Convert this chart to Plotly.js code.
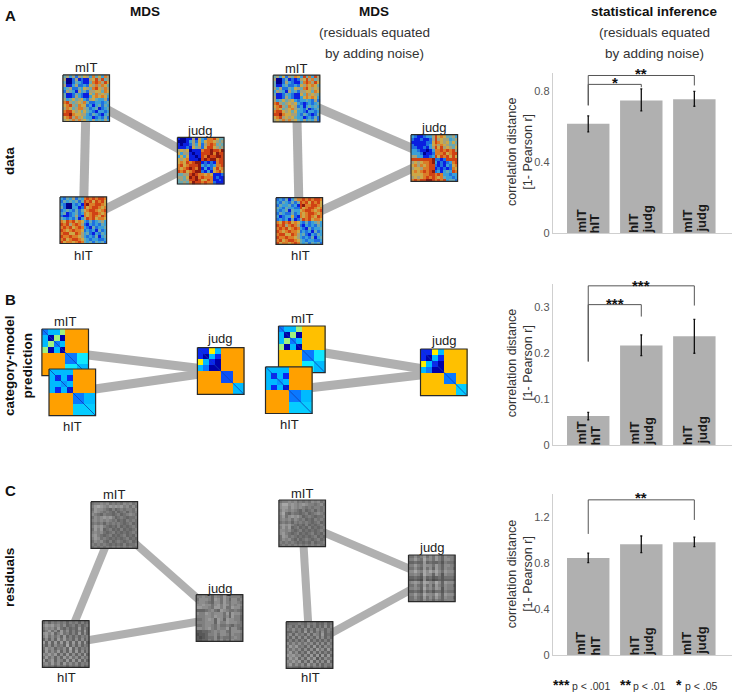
<!DOCTYPE html>
<html><head><meta charset="utf-8">
<script src="https://cdn.plot.ly/plotly-3.0.1.min.js"></script>
<style>html,body{margin:0;padding:0;background:#fff}#c{width:734px;height:693px}</style>
</head><body><div id="c"></div>
<script>
// ---------- bar chart data ----------
const pairsA = [['mIT','hIT'],['hIT','judg'],['mIT','judg']];
const pairsB = [['mIT','hIT'],['mIT','judg'],['hIT','judg']];
const pairsC = [['mIT','hIT'],['hIT','judg'],['mIT','judg']];
const distA = [0.614,0.746,0.752], errUpA = [0.045,0.065,0.045], errDnA = [0.045,0.059,0.039];
const distB = [0.063,0.217,0.237], errUpB = [0.008,0.023,0.037], errDnB = [0.008,0.022,0.037];
const distC = [0.849,0.968,0.985], errUpC = [0.041,0.072,0.045], errDnC = [0.041,0.073,0.037];
const ticksA = [0,0.4,0.8], ticksB = [0,0.1,0.2,0.3], ticksC = [0,0.4,0.8,1.2];
const labelsA = ['0','0.4','0.8'], labelsB = ['0','0.1','0.2','0.3'], labelsC = ['0','0.4','0.8','1.2'];

// ---------- MDS arrangements: node centres, one [mIT, hIT, judg] triple per panel ----------
const mdsA1X=[86.2,83.3,200.7], mdsA1Y=[98.2,220.2,160.7];
const mdsA2X=[296.5,299.3,434.3], mdsA2Y=[98.5,221,158];
const mdsB1X=[65.2,72.3,220.7], mdsB1Y=[352.3,392.3,371];
const mdsB2X=[301.8,288.8,443.8], mdsB2Y=[349.3,390.2,372.3];
const mdsC1X=[114.3,65.7,219.5], mdsC1Y=[525,644,618];
const mdsC2X=[302.2,309.5,431.8], mdsC2Y=[523.3,645,578.3];

// ---------- dissimilarity matrices, read as coarse colour levels ----------
const mitA1=["4535254653746375","5002512115685845","4002432114787586","5113522326575764","3452243654786575","2543153425566476","4112432116475654","4112532113676763","5346456325643352","7854565742233234","6785476623134243","5764577542341234","7886564643213323","8897665532432134","6785756433123242","5657575643534353"];
const hitA1=["3243524378787887","2434342487868786","3200323189778876","4200331286788767","2343242467887678","3412342376788767","2112352176787687","4323241358786776","7687867632423453","8785787521323243","7878678732142334","8767877623231423","7886687534213243","8778776532324134","7867887643233223","8677678743424342"];
const judgA1=["1001151632778644","0001352636776545","1011253625787454","1112164526886545","5656011178898879","6355101188897988","3636110187988998","6567111089899788","6768789912121788","7867888932323778","7678987913126867","8786789921316786","4455898776761112","5546989787771211","4545889866871121","4454798878772111"];
const mitA2=["4536254763847385","5002412125685745","4002532114787586","4113422326576764","5352243654786565","3543153425566476","4112432116475654","5112532113676763","5346456323343252","7854565632123234","6785476523134343","5764567543241234","7886564633213323","8897665532432124","6785656433123242","5657575643534352"];
const hitA2=["2324135778787887","3243242487868786","2433423189778876","4324332286788767","3234143367887678","2432242376788767","3123362176787687","2323141258786776","7687867632423453","8785787521323243","7878678732142334","8767877623231423","7886687534213243","8778776532324134","7867887643233223","8677678743424342"];
const judgA2=["3211233586764453","2112112585655345","1111122687656464","2111123675765445","2211213586856546","3321101377878785","3332011277786788","5533112386878686","8888888922128888","5656778931212378","6757678821213267","5665778812121276","6767878923134387","6666778878733233","5656787876743323","7878899878783442"];

const mitC1=["4556564545465645","5787657676756464","4766543534545546","5765454353453545","6543544345345654","4656767534543445","5656565453435454","4545354545434534","5767543435343454","4757345343534345","5656434534343454","6754345343453435","5764543434345343","4656435345434534","5454543434353445","4545454545454544"];
const hitC1=["3535454535453534","5767564634535345","4656474353437353","3574637463535373","6757357453537363","5746463735353545","3636374745363635","7373737373737373","5363645383636354","4756354638363545","3746473637373635","6575736373636373","4746363747463645","7357365373737363","5647463746463545","4545354535453534"];
const judgC1=["5565536547545554","4666537647536645","5665436647546654","6676646757646565","7766547757447664","3334564376544543","6557656664737664","5556657664637553","4456763763766553","5556663755766654","4456654644543544","6656754655736643","2233456566436665","1223556466536554","2123446354435654","2233546464536554"];
const mitC2=["4556564545465645","6886765676554564","6775765654545545","5765654353453545","6843544345345654","5746767534543445","5656465453435454","4545354545434534","6767543435343454","5757345343534345","6656434534343454","6754345343453435","4764543434345343","4656435345434534","5454543434353445","4545454545454544"];
const hitC2=["3444543545343534","4535353635353635","5464536353645354","3353537363536353","4636453636537343","5363636353636353","3535353735353535","6464646463636364","4757453637363645","6464636363746373","5746353736363535","7675636373727373","4757363747263645","6575736373636373","5746463746363545","4544354535453534"];
const judgC2=["4464574647536554","5575485647536654","3343373433425443","5575476647536654","4464374637536553","6686586868647665","5565386637526554","3343263423424443","2232162312323332","5676487658637665","4464374637536553","5565385647626554","3343263424425443","5575486658637665","4464374647536553","4454364535435554"];

// category-model predictions, levels on the same 0-9 code
const mitB1=[[2,3,3,5,7,7,7,7],[3,0,5,0,7,7,7,7],[3,5,2,3,7,7,7,7],[5,0,3,0,7,7,7,7],[7,7,7,7,2,2,4,4],[7,7,7,7,2,2,4,4],[7,7,7,7,4,4,3,3],[7,7,7,7,4,4,3,3]];
const mitB2=[[2,3,3,5,6.6,6.6,6.6,6.6],[3,0,5,0,6.6,6.6,6.6,6.6],[3,5,2,3,6.6,6.6,6.6,6.6],[5,0,3,0,6.6,6.6,6.6,6.6],[6.6,6.6,6.6,6.6,2,2,4,4],[6.6,6.6,6.6,6.6,2,2,4,4],[6.6,6.6,6.6,6.6,4,4,3,3],[6.6,6.6,6.6,6.6,4,4,3,3]];
const hitB=[[3,3,3,3,7,7,7,7],[3,1,3,1,7,7,7,7],[3,3,2.5,3,7,7,7,7],[3,1,3,0.6,7,7,7,7],[7,7,7,7,2,2,3,3],[7,7,7,7,2,2,3,3],[7,7,7,7,3.4,3.4,3.4,3.4],[7,7,7,7,3.4,3.4,3.4,3.4]];
const judgB1=[[1,1,6,3,7,7,7,7],[1,0,3,1,7,7,7,7],[6,3,1,0,7,7,7,7],[3,2,0,0,7,7,7,7],[7,7,7,7,1.5,1.5,7,7],[7,7,7,7,1.5,1.5,7,7],[7,7,7,7,7,7,3,3],[7,7,7,7,7,7,3,3]];
const judgB2=[[1,1,6,3,6.6,6.6,6.6,6.6],[1,0,3,1,6.6,6.6,6.6,6.6],[6,3,1,0,6.6,6.6,6.6,6.6],[3,2,0,0,6.6,6.6,6.6,6.6],[6.6,6.6,6.6,6.6,2,2,6.6,6.6],[6.6,6.6,6.6,6.6,2,2,6.6,6.6],[6.6,6.6,6.6,6.6,6.6,6.6,3.4,3.4],[6.6,6.6,6.6,6.6,6.6,6.6,3.4,3.4]];

const rowTitles = ['data','category-model<br>prediction','residuals'];
const panelLetters = ['A','B','C'];

// ---------- styles ----------
const FONT='"Liberation Sans", Arial, sans-serif';
const noisyJet=[[0,'#00008f'],[1/9,'#0a1ee0'],[2/9,'#1f6fe0'],[3/9,'#3a9fd8'],[4/9,'#6aa8b0'],[5/9,'#a5a07a'],[6/9,'#cca848'],[7/9,'#dc7c28'],[8/9,'#d04214'],[1,'#8a1a10']];
const cleanJet=[[0,'#0000a8'],[1/9,'#0a28f0'],[2/9,'#0a78ff'],[3/9,'#00baff'],[4/9,'#10e8ff'],[5/9,'#a0f080'],[6/9,'#fff000'],[7/9,'#ffa000'],[8/9,'#e83010'],[1,'#900000']];
const greys=[[0,'#3e3e3e'],[1,'#b4b4b4']];
const BOX=46.6, LINE='#b0b0b0';

const parse=m=>typeof m[0]==='string'?m.map(r=>r.split('').map(Number)):m;
const data=[], annotations=[];
function text(x,y,t,o={}){annotations.push(Object.assign({x,y,xref:'x',yref:'y',text:t,showarrow:false,font:{family:FONT,size:13,color:'#222'},xanchor:'center',yanchor:'middle'},o));}

function node(cx,cy,m,scale,ax,ay,diag){
  const z=parse(m),n=z.length,d=BOX/n;
  data.push({type:'heatmap',z,x0:cx-BOX/2+d/2,dx:d,y0:cy-BOX/2+d/2,dy:d,xaxis:ax,yaxis:ay,colorscale:scale,zmin:0,zmax:9,showscale:false,hoverinfo:'skip'});
  if(diag)data.push({type:'scatter',mode:'lines',x:[cx-BOX/2,cx+BOX/2],y:[cy-BOX/2,cy+BOX/2],xaxis:ax,yaxis:ay,line:{color:'#1040b0',width:0.8},hoverinfo:'skip',showlegend:false});
  data.push({type:'scatter',mode:'lines',x:[cx-BOX/2,cx+BOX/2,cx+BOX/2,cx-BOX/2,cx-BOX/2],y:[cy-BOX/2,cy-BOX/2,cy+BOX/2,cy+BOX/2,cy-BOX/2],xaxis:ax,yaxis:ay,line:{color:'#2a2a2a',width:1.2},hoverinfo:'skip',showlegend:false});
}
function mds(X,Y,ms,scale,diag,lab,w){
  const ord=[[0,1],[0,2],[1,2]];
  ord.forEach(([a,b])=>{ if(diag&&a===0&&b===1)return;
    data.push({type:'scatter',mode:'lines',x:[X[a],X[b]],y:[Y[a],Y[b]],xaxis:'x',yaxis:'y',line:{color:LINE,width:w},hoverinfo:'skip',showlegend:false});});
  node(X[0],Y[0],ms[0],scale,'x2','y2',diag);
  node(X[2],Y[2],ms[2],scale,'x2','y2',diag);
  node(X[1],Y[1],ms[1],scale,'x3','y3',diag);
  ['mIT','hIT','judg'].forEach((t,i)=>text(lab[i][0],lab[i][1],t));
}
mds(mdsA1X,mdsA1Y,[mitA1,hitA1,judgA1],noisyJet,false,[[86,67.5],[83,255],[200,130]],9);
mds(mdsA2X,mdsA2Y,[mitA2,hitA2,judgA2],noisyJet,false,[[296,68],[300,255],[434,127]],9);
mds(mdsB1X,mdsB1Y,[mitB1,hitB,judgB1],cleanJet,true,[[65,321],[72,426],[220,338]],9);
mds(mdsB2X,mdsB2Y,[mitB2,hitB,judgB2],cleanJet,true,[[302,318],[289,424],[444,340]],9);
mds(mdsC1X,mdsC1Y,[mitC1,hitC1,judgC1],greys,false,[[114,494],[66,677],[220,588]],8);
mds(mdsC2X,mdsC2Y,[mitC2,hitC2,judgC2],greys,false,[[302,493],[310,677],[432,547]],8);

// headings
const bold=(s)=>({font:{family:FONT,size:s,color:'#111'}});
const sub={font:{family:FONT,size:13.5,color:'#333'}};
text(145,11,'<b>MDS</b>',bold(13.5));
text(374,11,'<b>MDS</b>',bold(13.5));
text(374,32,'(residuals equated',sub);
text(374,53,'by adding noise)',sub);
text(654,11,'<b>statistical inference</b>',bold(13.5));
text(654,32,'(residuals equated',sub);
text(654,53,'by adding noise)',sub);
panelLetters.forEach((t,i)=>text(10,[15,299,490][i],'<b>'+t+'</b>',bold(15)));
text(9,161,'<b>'+rowTitles[0]+'</b>',Object.assign(bold(13.5),{textangle:-90}));
text(18,366,'<b>'+rowTitles[1]+'</b>',Object.assign(bold(13.5),{textangle:-90}));
text(9,578,'<b>'+rowTitles[2]+'</b>',Object.assign(bold(13.5),{textangle:-90}));

// significance legend
[[561.5,'***'],[625,'**'],[679,'*']].forEach(([x,t])=>text(x,685,'<b>'+t+'</b>',{font:{family:FONT,size:14,color:'#111'}}));
[[591,'p < .001'],[649.5,'p < .01'],[701,'p < .05']].forEach(([x,t])=>text(x,686,t,{font:{family:FONT,size:10.5,color:'#333'}}));

// y-axis titles
const yTitle='correlation distance<br>[1- Pearson r]';
[152.5,363.7,574.7].forEach(y=>text(519.5,y,yTitle,{textangle:-90,font:{family:FONT,size:12.5,color:'#333'}}));

// ---------- bar panels ----------
const layout={width:734,height:693,margin:{l:0,r:0,t:0,b:0},paper_bgcolor:'#fff',plot_bgcolor:'rgba(0,0,0,0)',showlegend:false,annotations,font:{family:FONT}};
const overlay=i=>{
  layout['xaxis'+(i===1?'':i)]={domain:[0,1],range:[0,734],visible:false,fixedrange:true,anchor:'y'+(i===1?'':i)};
  layout['yaxis'+(i===1?'':i)]={domain:[0,1],range:[693,0],visible:false,fixedrange:true,anchor:'x'+(i===1?'':i)};
};
[1,2,3].forEach(overlay);

function barPanel(i,vals,up,dn,pairs,top,base,ymax,tv,tl,brackets,stars){
  const xa='x'+i,ya='y'+i;
  const cats=[1,2,3];
  data.push({type:'bar',x:cats,y:vals,xaxis:xa,yaxis:ya,width:0.8,marker:{color:'#b0b0b0',line:{width:0}},
    error_y:{type:'data',symmetric:false,array:up,arrayminus:dn,color:'#111',thickness:1.3,width:1},hoverinfo:'skip'});
  brackets.forEach(b=>data.push({type:'scatter',mode:'lines',x:[b[0],b[0],b[1],b[1]],y:[b[2],b[3],b[3],b[4]],xaxis:xa,yaxis:ya,line:{color:'#555',width:1},hoverinfo:'skip',showlegend:false}));
  pairs.forEach((p,k)=>{
    [[p[0],-7.2],[p[1],7.2]].forEach(([t,dx])=>annotations.push({x:cats[k],y:0,xref:xa,yref:ya,xshift:dx,yshift:-2,text:'<b>'+t+'</b>',textangle:-90,showarrow:false,xanchor:'center',yanchor:'bottom',font:{family:FONT,size:13,color:'#1a1a1a'}}));
  });
  stars.forEach(s=>annotations.push({x:s[0],y:s[1],xref:xa,yref:ya,text:'<b>'+s[2]+'</b>',showarrow:false,yshift:-1,xanchor:'center',yanchor:'middle',font:{family:FONT,size:15,color:'#111'}}));
  layout['xaxis'+i]={domain:[552.7/734,732/734],range:[0.33,3.71],anchor:ya,showline:true,linecolor:'#cfcfcf',linewidth:1,showticklabels:false,ticks:'',showgrid:false,zeroline:false,fixedrange:true};
  layout['yaxis'+i]={domain:[1-base/693,1-top/693],range:[0,ymax],anchor:xa,showline:true,linecolor:'#cfcfcf',linewidth:1,tickmode:'array',tickvals:tv,ticktext:tl,ticks:'',showgrid:false,zeroline:false,fixedrange:true,
    tickfont:{family:FONT,size:11,color:'#555'}};
}
barPanel(4,distA,errUpA,errDnA,pairsA,73,233,0.9,ticksA,labelsA,
  [[1,3,0.718,0.886,0.83],[1,2,0.718,0.836,0.82]],[[2,0.9,'**'],[1.5,0.85,'*']]);
barPanel(5,distB,errUpB,errDnB,pairsB,284,445,0.351,ticksB,labelsB,
  [[1,3,0.182,0.347,0.304],[1,2,0.182,0.306,0.28]],[[2,0.351,'***'],[1.5,0.311,'***']]);
barPanel(6,distC,errUpC,errDnC,pairsC,494,655.3,1.406,ticksC,labelsC,
  [[1,3,1.058,1.355,1.18]],[[2,1.38,'**']]);

Plotly.newPlot('c',data,layout,{displayModeBar:false,staticPlot:true});
</script></body></html>
